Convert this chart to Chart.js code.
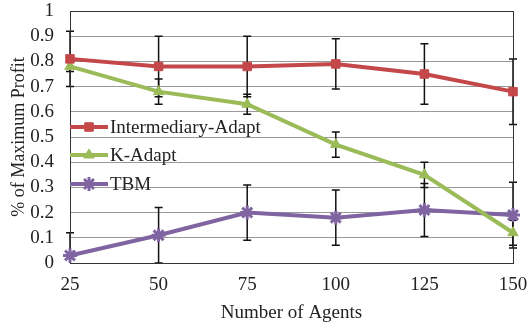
<!DOCTYPE html>
<html>
<head>
<meta charset="utf-8">
<script src="https://cdn.jsdelivr.net/npm/chart.js@4"></script>
<style>
  html, body { margin: 0; padding: 0; background: #fff; }
  #wrap { width: 530px; height: 324px; }
</style>
</head>
<body>
<div id="wrap"><canvas id="chart" width="530" height="324"></canvas></div>
<script>
// data
const agents = ['25', '50', '75', '100', '125', '150'];
const intermediary = [0.81, 0.78, 0.78, 0.79, 0.75, 0.68];
const intermediaryErr = [0.11, 0.12, 0.12, 0.10, 0.12, 0.13];
const kAdapt = [0.78, 0.68, 0.63, 0.47, 0.35, 0.12];
const kAdaptErr = [0.02, 0.05, 0.04, 0.05, 0.05, 0.05];
const tbm = [0.03, 0.11, 0.20, 0.18, 0.21, 0.19];
const tbmErr = [0.09, 0.11, 0.11, 0.11, 0.105, 0.13];

const FONT = '"Liberation Serif", "Times New Roman", serif';

// error bars, drawn under the lines
const errorBars = {
    id: 'errorBars',
    beforeDatasetsDraw(chart) {
        const { ctx, chartArea, scales } = chart;
        ctx.save();
        ctx.beginPath();
        ctx.rect(chartArea.left - 10, chartArea.top, chartArea.right - chartArea.left + 20, chartArea.bottom - chartArea.top);
        ctx.clip();
        ctx.strokeStyle = '#111';
        ctx.lineWidth = 1.5;
        chart.data.datasets.forEach(ds => {
            ds.data.forEach((v, i) => {
                const x = scales.x.getPixelForValue(i);
                const yTop = scales.y.getPixelForValue(v + ds.errors[i]);
                const yBot = scales.y.getPixelForValue(v - ds.errors[i]);
                ctx.beginPath();
                ctx.moveTo(x, yTop); ctx.lineTo(x, yBot);
                ctx.moveTo(x - 4, yTop); ctx.lineTo(x + 4, yTop);
                ctx.moveTo(x - 4, yBot); ctx.lineTo(x + 4, yBot);
                ctx.stroke();
            });
        });
        ctx.restore();
    }
};

// plot frame
const frame = {
    id: 'frame',
    beforeDatasetsDraw(chart) {
        const { ctx, chartArea } = chart;
        ctx.save();
        ctx.strokeStyle = '#333';
        ctx.lineWidth = 1;
        ctx.strokeRect(chartArea.left + 0.5, chartArea.top + 0.5, chartArea.right - chartArea.left, chartArea.bottom - chartArea.top);
        ctx.restore();
    }
};

// legend sitting inside the plot, stacked on the left
const insideLegend = {
    id: 'insideLegend',
    afterDraw(chart) {
        const { ctx, chartArea } = chart;
        const rows = [127, 155, 184];
        ctx.save();
        chart.data.datasets.forEach((ds, i) => {
            const y = rows[i];
            const x0 = chartArea.left;
            ctx.strokeStyle = ds.borderColor;
            ctx.lineWidth = 4;
            ctx.beginPath();
            ctx.moveTo(x0, y); ctx.lineTo(x0 + 38, y);
            ctx.stroke();
            ctx.fillStyle = ds.pointBackgroundColor;
            ctx.strokeStyle = ds.pointBorderColor;
            ctx.lineWidth = ds.pointBorderWidth;
            Chart.helpers.drawPoint(ctx, {
                pointStyle: ds.pointStyle,
                radius: ds.pointRadius,
                rotation: 0,
                borderWidth: ds.pointBorderWidth
            }, x0 + 19, y);
            ctx.fillStyle = '#222';
            ctx.font = '19px ' + FONT;
            ctx.textBaseline = 'middle';
            ctx.textAlign = 'left';
            ctx.fillText(ds.label, x0 + 40, y + 1);
        });
        ctx.restore();
    }
};

const red = '#C4474A';
const green = '#9BBB59';
const purple = '#8064A2';

new Chart(document.getElementById('chart').getContext('2d'), {
    type: 'line',
    data: {
        labels: agents,
        datasets: [
            {
                label: 'Intermediary-Adapt',
                data: intermediary,
                errors: intermediaryErr,
                borderColor: red,
                borderWidth: 4,
                pointStyle: 'rect',
                pointRadius: 6,
                pointBackgroundColor: red,
                pointBorderColor: red,
                pointBorderWidth: 1,
                tension: 0,
                clip: false
            },
            {
                label: 'K-Adapt',
                data: kAdapt,
                errors: kAdaptErr,
                borderColor: green,
                borderWidth: 4,
                pointStyle: 'triangle',
                pointRadius: 6,
                pointBackgroundColor: green,
                pointBorderColor: green,
                pointBorderWidth: 1,
                tension: 0,
                clip: false
            },
            {
                label: 'TBM',
                data: tbm,
                errors: tbmErr,
                borderColor: purple,
                borderWidth: 4,
                pointStyle: 'star',
                pointRadius: 7,
                pointBackgroundColor: purple,
                pointBorderColor: purple,
                pointBorderWidth: 3,
                tension: 0,
                clip: false
            }
        ]
    },
    options: {
        responsive: false,
        animation: false,
        layout: { padding: { top: 11, right: 17, left: 0, bottom: 0 } },
        plugins: {
            legend: { display: false },
            tooltip: { enabled: false }
        },
        scales: {
            x: {
                offset: false,
                grid: { display: false, drawTicks: false },
                border: { display: false },
                ticks: { color: '#222', font: { family: FONT, size: 19 }, padding: 11, maxRotation: 0 },
                title: { display: true, text: 'Number of Agents', color: '#222', font: { family: FONT, size: 19 }, padding: { top: 3, bottom: 0 } },
                afterFit(scale) {
                    scale.height = 61;
                    scale.paddingLeft = 0;
                    scale.paddingRight = 0;
                }
            },
            y: {
                min: 0,
                max: 1,
                grid: { color: '#999', lineWidth: 1, drawTicks: false },
                border: { display: false },
                ticks: {
                    stepSize: 0.1,
                    autoSkip: false,
                    color: '#222',
                    font: { family: FONT, size: 19 },
                    padding: 16,
                    callback: v => Math.round(v * 10) / 10
                },
                title: { display: true, text: '% of Maximum Profit', color: '#222', font: { family: FONT, size: 18 }, padding: { top: 8, bottom: 4 } },
                afterFit(scale) {
                    scale.width = 70;
                    scale.paddingTop = 0;
                    scale.paddingBottom = 0;
                }
            }
        }
    },
    plugins: [errorBars, frame, insideLegend]
});
</script>
</body>
</html>
